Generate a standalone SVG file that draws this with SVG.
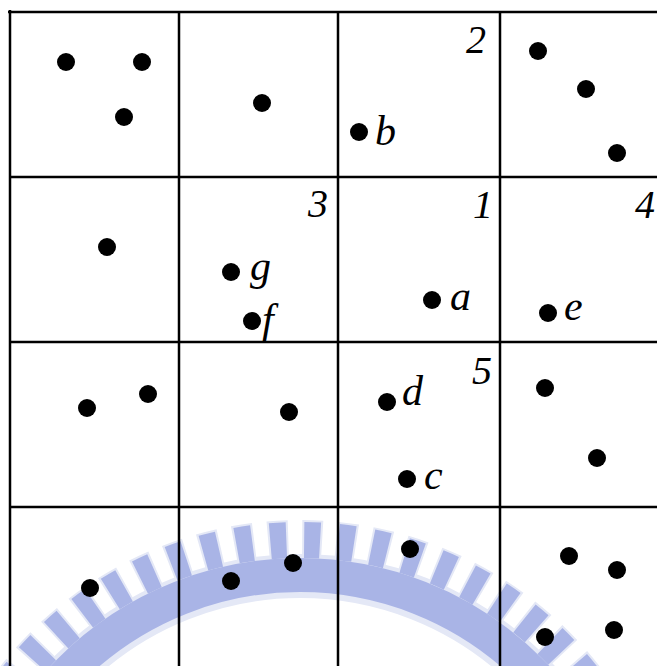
<svg xmlns="http://www.w3.org/2000/svg" width="657" height="666" viewBox="0 0 657 666">
<style>
.grid line{stroke:#000;stroke-width:2.5}
.dot{fill:#000}
.lbl{font-family:"Liberation Serif","Times New Roman",serif;font-style:italic;font-size:42px;fill:#000}
.num{font-family:"Liberation Serif","Times New Roman",serif;font-style:italic;font-size:40px;fill:#000;text-anchor:end}
.wm{fill:none;stroke:#a9b4e6}
.wmf{fill:none;stroke:#e4e8f6}
</style>
<rect width="657" height="666" fill="#fff"/>
<g id="watermark">
<circle class="wmf" cx="300" cy="900" r="324" stroke-width="44"/>
<circle class="wmf" cx="300" cy="900" r="360" stroke-width="40" stroke-dasharray="20 14" stroke-dashoffset="2"/>
<circle class="wm" cx="300" cy="900" r="325" stroke-width="34"/>
<circle class="wm" cx="300" cy="900" r="360" stroke-width="36" stroke-dasharray="16 18"/>
</g>
<g class="grid" id="grid">
<line x1="8" y1="12" x2="657" y2="12"/>
<line x1="10" y1="177" x2="657" y2="177"/>
<line x1="10" y1="342" x2="657" y2="342"/>
<line x1="10" y1="507" x2="657" y2="507"/>
<line x1="10" y1="10" x2="10" y2="666"/>
<line x1="179" y1="12" x2="179" y2="666"/>
<line x1="338" y1="12" x2="338" y2="666"/>
<line x1="500" y1="12" x2="500" y2="666"/>
</g>
<g id="cell-1-1"><circle class="dot" cx="66" cy="62" r="9"/><circle class="dot" cx="142" cy="62" r="9"/><circle class="dot" cx="124" cy="117" r="9"/></g>
<g id="cell-1-2"><circle class="dot" cx="262" cy="103" r="9"/></g>
<g id="cell-1-3"><text class="num" x="486" y="53">2</text><circle class="dot" cx="359" cy="132" r="9"/><text class="lbl" x="375" y="145">b</text></g>
<g id="cell-1-4"><circle class="dot" cx="538" cy="51" r="9"/><circle class="dot" cx="586" cy="89" r="9"/><circle class="dot" cx="617" cy="153" r="9"/></g>
<g id="cell-2-1"><circle class="dot" cx="107" cy="247" r="9"/></g>
<g id="cell-2-2"><text class="num" x="328" y="217">3</text><circle class="dot" cx="231" cy="272" r="9"/><text class="lbl" x="250" y="280">g</text><circle class="dot" cx="252" cy="321" r="9"/><text class="lbl" x="262" y="333">f</text></g>
<g id="cell-2-3"><text class="num" x="493" y="218">1</text><circle class="dot" cx="432" cy="300" r="9"/><text class="lbl" x="450" y="310">a</text></g>
<g id="cell-2-4"><text class="num" x="655" y="218">4</text><circle class="dot" cx="548" cy="313" r="9"/><text class="lbl" x="564" y="320">e</text></g>
<g id="cell-3-1"><circle class="dot" cx="87" cy="408" r="9"/><circle class="dot" cx="148" cy="394" r="9"/></g>
<g id="cell-3-2"><circle class="dot" cx="289" cy="412" r="9"/></g>
<g id="cell-3-3"><text class="num" x="492" y="384">5</text><circle class="dot" cx="387" cy="402" r="9"/><text class="lbl" x="402" y="405">d</text><circle class="dot" cx="407" cy="479" r="9"/><text class="lbl" x="424" y="489">c</text></g>
<g id="cell-3-4"><circle class="dot" cx="545" cy="388" r="9"/><circle class="dot" cx="597" cy="458" r="9"/></g>
<g id="cell-4-1"><circle class="dot" cx="90" cy="588" r="9"/></g>
<g id="cell-4-2"><circle class="dot" cx="231" cy="581" r="9"/><circle class="dot" cx="293" cy="563" r="9"/></g>
<g id="cell-4-3"><circle class="dot" cx="410" cy="549" r="9"/></g>
<g id="cell-4-4"><circle class="dot" cx="569" cy="556" r="9"/><circle class="dot" cx="617" cy="570" r="9"/><circle class="dot" cx="614" cy="630" r="9"/><circle class="dot" cx="545" cy="637" r="9"/></g>
</svg>
